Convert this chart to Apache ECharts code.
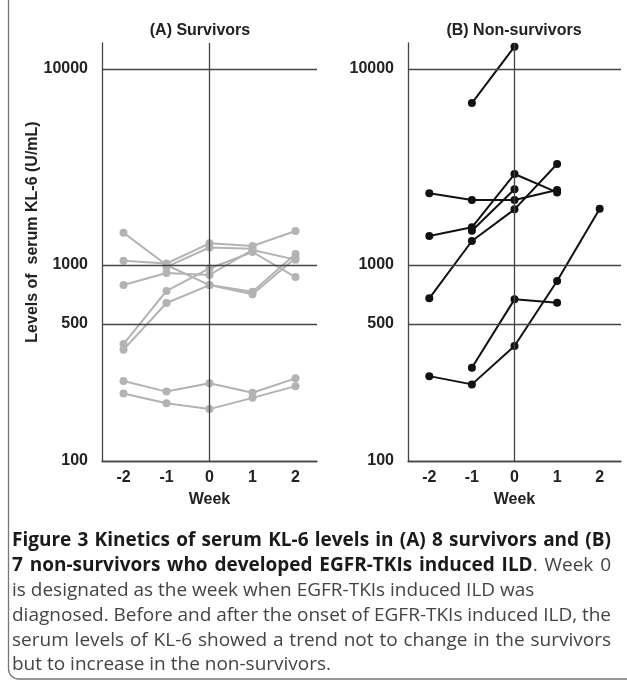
<!DOCTYPE html>
<html>
<head>
<meta charset="utf-8">
<script src="https://cdn.jsdelivr.net/npm/echarts@6/dist/echarts.min.js"></script>
<style>
html,body{margin:0;padding:0;background:#fff;}
#chart{width:627px;height:683px;}
</style>
</head>
<body>
<div id="chart"></div>
<script>
// ---- data ----
const weeks = ['-2', '-1', '0', '1', '2'];
const yTicks = [100, 500, 1000, 10000];

// (A) Survivors, serum KL-6 (U/mL)
const surv1 = [1461, 1000, 790, 730, 1138];
const surv2 = [370, 640, 790, 710, 1086];
const surv3 = [395, 737, 960, 1165, 868];
const surv4 = [1052, 1018, 1290, 1250, 1490];
const surv5 = [790, 910, 890, 1193, 1065];
const surv6 = [null, 978, 1228, 1210, null];
const surv7 = [256, 226, 249, 223, 264];
const surv8 = [221, 197, 184, 210, 241];

// (B) Non-survivors, serum KL-6 (U/mL)
const non1 = [null, 6700, 13000, null, null];
const non2 = [2322, 2146, 2146, 2414, null];
const non3 = [1406, 1557, 2912, 2347, null];
const non4 = [null, 1496, 2434, null, null];
const non5 = [676, 1326, 1923, 3275, null];
const non6 = [null, 299, 668, 642, null];
const non7 = [271, 246, 386, 829, 1938];

const survivors = [surv1, surv2, surv3, surv4, surv5, surv6, surv7, surv8];
const nonSurvivors = [non1, non2, non3, non4, non5, non6, non7];

// caption text (b = bold run, r = regular run), justified flag
const captionLines = [
  ['{b|Figure 3 Kinetics of serum KL-6 levels in (A) 8 survivors and (B)}', true],
  ['{b|7 non-survivors who developed EGFR-TKIs induced ILD}{r|. Week 0}', true],
  ['{r|is designated as the week when EGFR-TKIs induced ILD was}', false],
  ['{r|diagnosed. Before and after the onset of EGFR-TKIs induced ILD, the}', true],
  ['{r|serum levels of KL-6 showed a trend not to change in the survivors}', true],
  ['{r|but to increase in the non-survivors.}', false]
];

// ---- styling / layout ----
const AX = '"Liberation Sans", Arial, sans-serif';
const CAP = '"Open Sans", Lato, sans-serif';
const axisColor = '#444';
const yMax = 13575;

function gridAxes(idx) {
  return {
    x: {
      type: 'category', gridIndex: idx, data: weeks, boundaryGap: true,
      axisLine: {onZero: false, lineStyle: {color: axisColor, width: 1.3}},
      axisTick: {show: false},
      axisLabel: {margin: 9, color: '#222', fontFamily: AX, fontWeight: 'bold', fontSize: 16},
      splitLine: {show: false},
      name: 'Week', nameLocation: 'middle', nameGap: 31,
      nameTextStyle: {color: '#222', fontFamily: AX, fontWeight: 'bold', fontSize: 16}
    },
    y: {
      type: 'log', logBase: 10, gridIndex: idx, min: 100, max: yMax,
      axisLine: {show: true, lineStyle: {color: axisColor, width: 1.3}},
      axisTick: {show: false},
      axisLabel: {show: false},
      splitLine: {show: false}
    }
  };
}

function guideLines() {
  return {
    silent: true, symbol: ['none', 'none'], animation: false,
    lineStyle: {color: axisColor, width: 1.3, type: 'solid'},
    label: {
      show: true, position: 'start', distance: 14,
      color: '#222', fontFamily: AX, fontWeight: 'bold', fontSize: 16,
      formatter: p => String(p.value)
    },
    data: yTicks.map(v => ({yAxis: v})).concat([{xAxis: '0', label: {show: false}}])
  };
}

const a0 = gridAxes(0), a1 = gridAxes(1);
const series = [];
survivors.forEach((d, i) => {
  series.push({
    type: 'line', xAxisIndex: 0, yAxisIndex: 0, data: d,
    symbol: 'circle', symbolSize: 8, showSymbol: true,
    lineStyle: {color: '#b3b3b6', width: 2},
    itemStyle: {color: '#b3b3b6'},
    z: 3,
    markLine: i === 0 ? guideLines() : undefined
  });
});
nonSurvivors.forEach((d, i) => {
  series.push({
    type: 'line', xAxisIndex: 1, yAxisIndex: 1, data: d,
    symbol: 'circle', symbolSize: 8, showSymbol: true,
    lineStyle: {color: '#111', width: 2},
    itemStyle: {color: '#111'},
    z: 3,
    markLine: i === 0 ? guideLines() : undefined
  });
});

function txt(x, y, text, extra) {
  return {
    type: 'text', x: x, y: y, silent: true,
    style: Object.assign({text: text, fill: '#222', fontFamily: AX, fontWeight: 'bold', fontSize: 16,
      align: 'center', verticalAlign: 'middle'}, extra || {})
  };
}

const capSize = 19;
const captionRich = {
  b: {fontFamily: CAP, fontWeight: 'bold', fontSize: capSize, fill: '#1a1a1a'},
  r: {fontFamily: CAP, fontWeight: 'normal', fontSize: capSize, fill: '#444'}
};
const mctx = document.createElement('canvas').getContext('2d');
function measure(t, s) {
  const st = captionRich[s];
  mctx.font = st.fontWeight + ' ' + st.fontSize + 'px ' + st.fontFamily;
  return mctx.measureText(t).width;
}
function toWords(markup) {
  const words = []; let cur = [];
  markup.replace(/\{(\w)\|([^}]*)\}/g, (m, s, t) => {
    t.split(' ').forEach((p, k) => {
      if (k > 0) { if (cur.length) words.push(cur); cur = []; }
      if (p) cur.push([p, s]);
    });
    return '';
  });
  if (cur.length) words.push(cur);
  return words;
}

const graphics = [
  {type: 'rect', silent: true, shape: {x: 8.5, y: -30, width: 660, height: 709, r: 10},
   style: {fill: 'none', stroke: '#777', lineWidth: 1.3}},
  txt(200, 31, '(A) Survivors'),
  txt(514, 31, '(B) Non-survivors'),
  Object.assign(txt(33, 232, 'Levels of  serum KL-6 (U/mL)'), {rotation: Math.PI / 2})
];

const capLeft = 12, capRight = 611, capTop = 541, capStep = 24.8;
captionLines.forEach(([markup, justify], i) => {
  const words = toWords(markup).map(runs => ({
    text: runs.map(([t, s]) => '{' + s + '|' + t + '}').join(''),
    w: runs.reduce((a, [t, s]) => a + measure(t, s), 0)
  }));
  const total = words.reduce((a, w) => a + w.w, 0);
  const gap = justify && words.length > 1 ? (capRight - capLeft - total) / (words.length - 1) : measure(' ', 'r');
  let x = capLeft;
  words.forEach(w => {
    graphics.push({
      type: 'text', x: x, y: capTop + i * capStep, silent: true,
      style: {text: w.text, rich: captionRich, align: 'left', verticalAlign: 'middle'}
    });
    x += w.w + gap;
  });
});

const chart = echarts.init(document.getElementById('chart'), null, {renderer: 'canvas'});
chart.setOption({
  animation: false,
  backgroundColor: '#fff',
  grid: [
    {left: 102, right: 310, top: 43, bottom: 222, containLabel: false},
    {left: 408, right: 6, top: 43, bottom: 222, containLabel: false}
  ],
  xAxis: [a0.x, a1.x],
  yAxis: [a0.y, a1.y],
  series: series,
  graphic: graphics
});
</script>
</body>
</html>
